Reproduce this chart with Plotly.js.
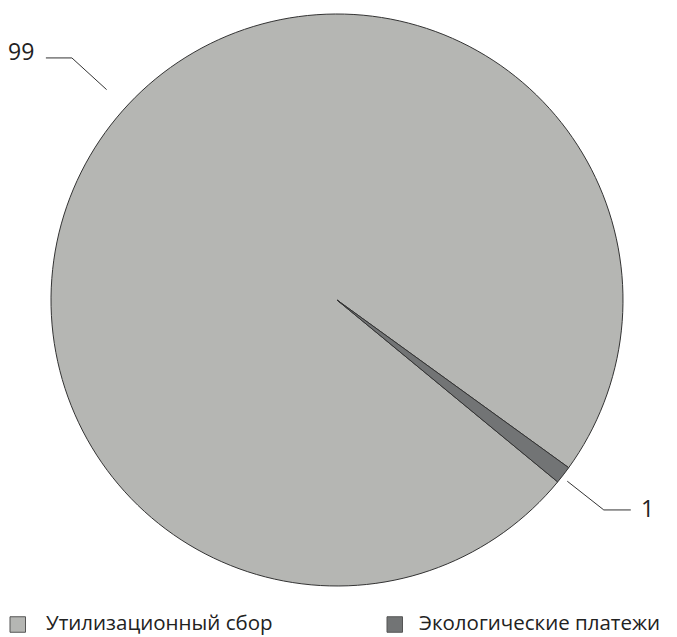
<!DOCTYPE html>
<html>
<head>
<meta charset="utf-8">
<script src="https://cdn.plot.ly/plotly-3.0.1.min.js"></script>
<style>html,body{margin:0;padding:0;background:#fff;}#chart{width:677px;height:637px;}</style>
</head>
<body>
<div id="chart"></div>
<script>
// Data
const categories = ['Утилизационный сбор', 'Экологические платежи'];
const values = [99, 1];
const valueLabels = ['99', '1'];
const sliceColors = ['#b5b6b3', '#727475'];

// Geometry (pixels)
const W = 677, H = 637;
const cx = 337, cy = 300, R = 286;
const rotation = 129.5;

// slice mid angles (degrees clockwise from top), computed from data
const total = values.reduce((a, b) => a + b, 0);
let acc = 0;
const midAngles = values.map(v => {
  const start = rotation + acc / total * 360;
  acc += v;
  return start + v / total * 180;
});
// leader-line tweaks, radii in px
const labelCfg = [
  {dAng: 4.7, r0: 312, r1: 359, hor: -26, gap: 10, dy: -4.5},
  {dAng: 0.5, r0: 293, r1: 339.5, hor: 27, gap: 8, dy: 0}
];
// legend placement (px)
const legendCfg = {y: 624.5, size: 15.5, boxX: [10, 387], textX: [45, 418]};

const px = x => x / W;
const py = y => 1 - y / H;

const shapes = [], annotations = [];
values.forEach((v, i) => {
  const c = labelCfg[i];
  const a = (midAngles[i] + c.dAng) * Math.PI / 180;
  const sx = Math.sin(a), sy = -Math.cos(a);
  const x0 = cx + c.r0 * sx, y0 = cy + c.r0 * sy;
  const x1 = cx + c.r1 * sx, y1 = cy + c.r1 * sy;
  const x2 = x1 + c.hor;
  const lineStyle = {color: '#333', width: 1};
  shapes.push({type: 'line', xref: 'paper', yref: 'paper', x0: px(x0), y0: py(y0), x1: px(x1), y1: py(y1), line: lineStyle});
  shapes.push({type: 'line', xref: 'paper', yref: 'paper', x0: px(x1), y0: py(y1), x1: px(x2), y1: py(y1), line: lineStyle});
  annotations.push({
    xref: 'paper', yref: 'paper', x: px(x2 + (c.hor < 0 ? -c.gap : c.gap)), y: py(y1 + c.dy - 2),
    xanchor: c.hor < 0 ? 'right' : 'left', yanchor: 'middle', showarrow: false,
    text: valueLabels[i], font: {size: 23, color: '#222', family: 'Open Sans, sans-serif'}
  });
});

// legend (swatches + labels from the data arrays)
categories.forEach((cat, i) => {
  const bx = legendCfg.boxX[i], s = legendCfg.size;
  shapes.push({
    type: 'rect', xref: 'paper', yref: 'paper',
    x0: px(bx), x1: px(bx + s), y0: py(legendCfg.y - s / 2), y1: py(legendCfg.y + s / 2),
    fillcolor: sliceColors[i], line: {color: '#555', width: 1}
  });
  annotations.push({
    xref: 'paper', yref: 'paper', x: px(legendCfg.textX[i]), y: 0,
    xanchor: 'left', yanchor: 'bottom', showarrow: false, borderpad: 0,
    text: cat, font: {size: 20.5, color: '#222', family: 'Open Sans, sans-serif'}
  });
});

const trace = {
  type: 'pie',
  labels: categories,
  values: values,
  sort: false,
  direction: 'clockwise',
  rotation: rotation,
  textinfo: 'none',
  hoverinfo: 'none',
  showlegend: false,
  marker: {colors: sliceColors, line: {color: '#333', width: 1}},
  domain: {x: [px(cx - R), px(cx + R)], y: [py(cy + R), py(cy - R)]}
};

const layout = {
  width: W, height: H,
  margin: {l: 0, r: 0, t: 0, b: 0, autoexpand: false},
  paper_bgcolor: '#fff',
  showlegend: false,
  shapes: shapes,
  annotations: annotations
};

Plotly.newPlot('chart', [trace], layout, {staticPlot: true, displayModeBar: false});
</script>
</body>
</html>
